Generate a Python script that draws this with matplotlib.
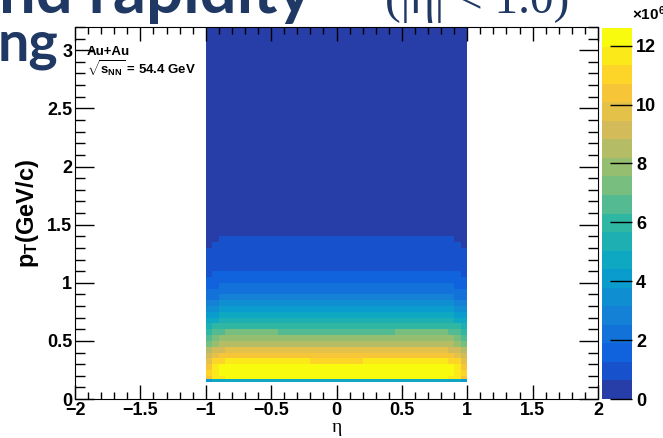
import numpy as np
import matplotlib
matplotlib.use("Agg")
import matplotlib.pyplot as plt
from matplotlib.colors import LinearSegmentedColormap, ListedColormap, BoundaryNorm
from matplotlib.ticker import MultipleLocator

plt.rcParams["font.family"] = ["Liberation Sans", "DejaVu Sans"]
plt.rcParams["mathtext.fontset"] = "custom"
plt.rcParams["mathtext.rm"] = "Liberation Sans:bold"
plt.rcParams["mathtext.it"] = "Liberation Sans:bold"
plt.rcParams["mathtext.bf"] = "Liberation Sans:bold"

# pT bin edges (GeV/c) and counts (x10^6) at the peak eta region
pt_edges = [0.15, 0.175, 0.2, 0.25, 0.3, 0.35, 0.4, 0.45, 0.5, 0.55, 0.6,
            0.65, 0.7, 0.75, 0.8, 0.85, 0.9, 0.95, 1.0, 1.05, 1.1, 1.15,
            1.2, 1.25, 1.3, 1.35, 1.4, 1.45, 1.5, 1.6, 1.8, 2.0, 2.5, 3.2]
pt_counts = [5.0, 12.3, 12.6, 12.4, 11.6, 10.7, 9.7, 8.7, 7.8, 7.0,
             6.2, 5.4, 4.6, 3.9, 3.25, 2.7, 2.3, 1.95, 1.65, 1.42,
             1.22, 1.05, 0.92, 0.81, 0.72, 0.66, 0.56, 0.49, 0.40, 0.28,
             0.18, 0.10, 0.04]

# eta bins (0.05 wide) and relative acceptance
eta_edges = [-1.0, -0.95, -0.9, -0.85, -0.8, -0.75, -0.7, -0.65, -0.6, -0.55,
             -0.5, -0.45, -0.4, -0.35, -0.3, -0.25, -0.2, -0.15, -0.1, -0.05,
             0.0, 0.05, 0.1, 0.15, 0.2, 0.25, 0.3, 0.35, 0.4, 0.45,
             0.5, 0.55, 0.6, 0.65, 0.7, 0.75, 0.8, 0.85, 0.9, 0.95, 1.0]
eta_weights = [0.86, 0.93, 0.97, 0.99, 1.0, 1.0, 1.0, 1.0, 1.0, 0.995,
               0.99, 0.988, 0.985, 0.982, 0.98, 0.978, 0.977, 0.976, 0.975, 0.975,
               0.975, 0.975, 0.976, 0.977, 0.978, 0.98, 0.982, 0.985, 0.988, 0.99,
               0.995, 1.0, 1.0, 1.0, 1.0, 1.0, 0.99, 0.97, 0.93, 0.86]

z_max = 12.6
n_levels = 20

z = np.outer(pt_counts, eta_weights)

# ROOT kBird palette, 20 contours
stops = [0.0, 0.125, 0.25, 0.375, 0.5, 0.625, 0.75, 0.875, 1.0]
red = [0.2082, 0.0592, 0.0780, 0.0232, 0.1802, 0.5301, 0.8186, 0.9956, 0.9764]
green = [0.1664, 0.3599, 0.5041, 0.6419, 0.7178, 0.7492, 0.7328, 0.7862, 0.9832]
blue = [0.5293, 0.8684, 0.8385, 0.7914, 0.6425, 0.4662, 0.3499, 0.1968, 0.0539]
bird = LinearSegmentedColormap.from_list("bird", list(zip(stops, zip(red, green, blue))))
frac = np.clip((np.arange(n_levels) + 0.99) * 255 / n_levels / 254, 0, 1)
cmap = ListedColormap(bird(frac))
levels = np.linspace(0, z_max, n_levels + 1)
norm = BoundaryNorm(levels, n_levels)

fig = plt.figure(figsize=(6.63, 4.38), dpi=100)
ax = fig.add_axes([75 / 663, 1 - 399 / 438, 523 / 663, 372 / 438])
cax = fig.add_axes([602 / 663, 1 - 399 / 438, 30 / 663, 371 / 438])

mesh = ax.pcolormesh(eta_edges, pt_edges, z, cmap=cmap, norm=norm)

ax.set_xlim(-2, 2)
ax.set_ylim(0, 3.2)
ax.xaxis.set_minor_locator(MultipleLocator(0.1))
ax.yaxis.set_minor_locator(MultipleLocator(0.1))
ax.tick_params(which="both", direction="in", top=True, right=True, width=1)
ax.tick_params(axis="x", which="major", length=10)
ax.tick_params(axis="x", which="minor", length=5)
ax.tick_params(axis="y", which="major", length=14)
ax.tick_params(axis="y", which="minor", length=7)
ax.tick_params(labelsize=13, pad=2)
ax.set_xticks([-2, -1.5, -1, -0.5, 0, 0.5, 1, 1.5, 2])
ax.set_xticklabels(["\u22122", "\u22121.5", "\u22121", "\u22120.5", "0", "0.5", "1", "1.5", "2"])
ax.set_yticks([0, 0.5, 1, 1.5, 2, 2.5, 3])
ax.set_yticklabels(["0", "0.5", "1", "1.5", "2", "2.5", "3"])
for lab in ax.get_xticklabels() + ax.get_yticklabels():
    lab.set_fontweight("bold")

ax.set_xlabel("\u03b7", fontsize=14, family="Liberation Serif", labelpad=0)
ax.set_ylabel(r"$\mathregular{p_{T}}$(GeV/c)", fontsize=17, fontweight="bold", labelpad=4)

ax.text(0.023, 0.925, "Au+Au", transform=ax.transAxes, fontsize=9.5, fontweight="bold")
ax.text(0.023, 0.872, r"$\sqrt{s_{NN}}$ = 54.4 GeV", transform=ax.transAxes,
        fontsize=9.5, fontweight="bold")

cb = fig.colorbar(mesh, cax=cax, ticks=[0, 2, 4, 6, 8, 10, 12])
cb.outline.set_visible(False)
cax.tick_params(direction="in", length=16, width=1, labelsize=13, pad=3)
cax.minorticks_off()
for lab in cax.get_yticklabels():
    lab.set_fontweight("bold")
fig.text(632 / 663, 1 - 20 / 438, r"$\times10^{6}$", fontsize=11, va="baseline")

# slide title fragments behind the figure
fig.text(-0.002, 1 - 13 / 438, "nd rapidity", fontsize=47, fontweight="bold",
         family="Lato", color="#1f3864", va="baseline")
fig.text(385 / 663, 1 - 13 / 438, "(|\u03b7| < 1.0)", fontsize=34,
         family="Liberation Serif", color="#1f3864", va="baseline")
fig.text(-0.004, 1 - 60 / 438, "ng", fontsize=40, fontweight="bold",
         family="Lato", color="#1f3864", va="baseline")

fig.savefig("out.png", dpi=100)
